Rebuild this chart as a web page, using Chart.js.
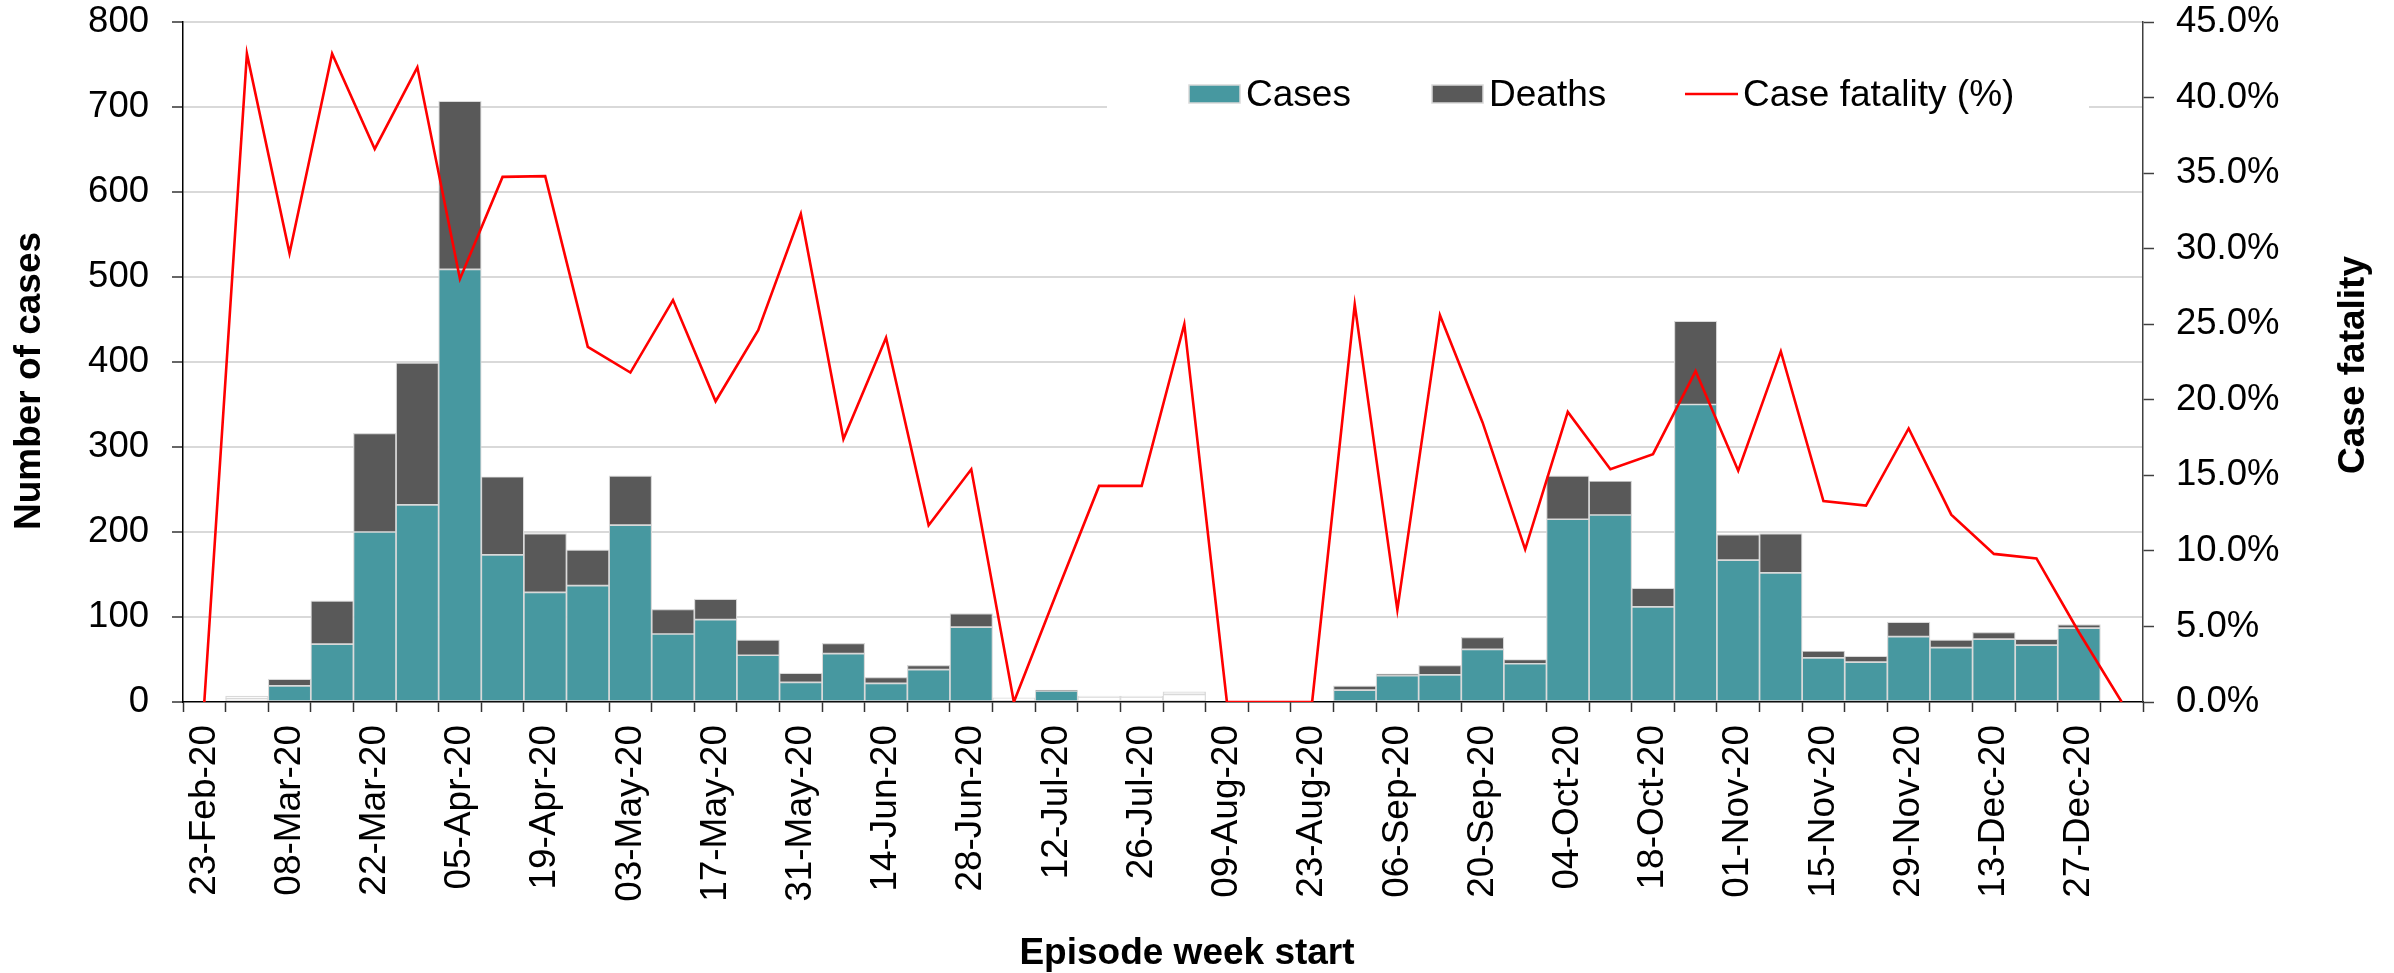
<!DOCTYPE html>
<html>
<head>
<meta charset="utf-8">
<script src="https://cdn.jsdelivr.net/npm/chart.js@4/dist/chart.umd.min.js"></script>
<style>
html,body{margin:0;padding:0;background:#ffffff;}
#wrap{width:2394px;height:973px;position:relative;}
</style>
</head>
<body>
<div id="wrap"><canvas id="c" width="2394" height="973"></canvas></div>
<script>
// ---- Data ----
const weeks = ['23-Feb-20','01-Mar-20','08-Mar-20','15-Mar-20','22-Mar-20','29-Mar-20','05-Apr-20','12-Apr-20','19-Apr-20','26-Apr-20','03-May-20','10-May-20','17-May-20','24-May-20','31-May-20','07-Jun-20','14-Jun-20','21-Jun-20','28-Jun-20','05-Jul-20','12-Jul-20','19-Jul-20','26-Jul-20','02-Aug-20','09-Aug-20','16-Aug-20','23-Aug-20','30-Aug-20','06-Sep-20','13-Sep-20','20-Sep-20','27-Sep-20','04-Oct-20','11-Oct-20','18-Oct-20','25-Oct-20','01-Nov-20','08-Nov-20','15-Nov-20','22-Nov-20','29-Nov-20','06-Dec-20','13-Dec-20','20-Dec-20','27-Dec-20','03-Jan-21'];
const cases = [0,4,19,68,200,232,509,173,129,137,208,80,97,55,23,57,22,38,88,5,13,6,6,9,0,0,0,14,31,32,62,45,215,220,112,350,167,152,52,47,77,64,74,67,87,0];
const deaths = [0,3,8,51,116,167,198,92,69,42,58,29,24,18,11,12,7,5,16,0,1,1,1,3,0,0,0,5,2,11,14,5,51,40,22,98,30,46,8,7,17,9,8,7,4,0];
const caseFatality = [0,42.9,29.7,42.9,36.6,42.0,28.0,34.75,34.8,23.5,21.8,26.6,19.9,24.6,32.3,17.4,24.1,11.7,15.4,0,7.2,14.3,14.3,25.0,0,0,0,26.3,6.1,25.6,18.5,10.1,19.2,15.4,16.4,21.9,15.3,23.2,13.3,13.0,18.1,12.4,9.8,9.5,4.6,0];
const countTicks = {min:0, max:800, step:100};
const pctTicks = {min:0, max:45, step:5};

// ---- Styles ----
const FONT = "'Liberation Sans', Arial, sans-serif";
const TEAL = '#4798a0';
const GREY = '#595959';
const EDGE = '#d9d9d9';
const suppressed = (i) => cases[i] < 10; // small weeks drawn unfilled

Chart.defaults.font.family = FONT;
Chart.defaults.color = '#000000';

const decor = {
  id: 'decor',
  afterDraw(chart) {
    const ctx = chart.ctx;
    ctx.save();
    // legend
    ctx.fillStyle = '#ffffff';
    ctx.fillRect(1107, 48, 982, 95);
    const ds = chart.data.datasets;
    ctx.font = "37px " + FONT;
    ctx.textBaseline = 'alphabetic';
    ctx.textAlign = 'left';
    // Cases
    ctx.fillStyle = TEAL; ctx.fillRect(1189, 85, 51, 18);
    ctx.strokeStyle = EDGE; ctx.lineWidth = 1.5; ctx.strokeRect(1189, 85, 51, 18);
    ctx.fillStyle = '#000'; ctx.fillText(ds[0].label, 1246, 106);
    // Deaths
    ctx.fillStyle = GREY; ctx.fillRect(1432, 85, 51, 18);
    ctx.strokeStyle = EDGE; ctx.strokeRect(1432, 85, 51, 18);
    ctx.fillStyle = '#000'; ctx.fillText(ds[1].label, 1489, 106);
    // Case fatality line
    ctx.strokeStyle = '#ff0000'; ctx.lineWidth = 2.5;
    ctx.beginPath(); ctx.moveTo(1685, 94); ctx.lineTo(1738, 94); ctx.stroke();
    ctx.fillStyle = '#000'; ctx.fillText(ds[2].label, 1743, 106);

    // axis titles
    ctx.font = "bold 37px " + FONT;
    ctx.textAlign = 'center';
    ctx.save(); ctx.translate(40, 381); ctx.rotate(-Math.PI/2);
    ctx.fillText('Number of cases', 0, 0); ctx.restore();
    ctx.save(); ctx.translate(2364, 365); ctx.rotate(-Math.PI/2);
    ctx.fillText('Case fatality', 0, 0); ctx.restore();
    ctx.fillText('Episode week start', 1187, 964);
    ctx.restore();
  }
};

const noPad = (s) => { s.paddingTop = 0; s.paddingBottom = 0; s.paddingLeft = 0; s.paddingRight = 0; };

new Chart(document.getElementById('c'), {
  data: {
    labels: weeks,
    datasets: [
      {
        type: 'bar', label: 'Cases', data: cases, yAxisID: 'y', order: 1,
        backgroundColor: (c) => suppressed(c.dataIndex) ? '#ffffff' : TEAL,
        borderColor: EDGE, borderWidth: 1.2, borderSkipped: false,
        barPercentage: 1, categoryPercentage: 1, stack: 's'
      },
      {
        type: 'bar', label: 'Deaths', data: deaths, yAxisID: 'y', order: 1,
        backgroundColor: (c) => suppressed(c.dataIndex) ? '#ffffff' : GREY,
        borderColor: EDGE, borderWidth: 1.2, borderSkipped: false,
        barPercentage: 1, categoryPercentage: 1, stack: 's'
      },
      {
        type: 'line', label: 'Case fatality (%)', data: caseFatality, yAxisID: 'y1', order: 0,
        borderColor: '#ff0000', backgroundColor: '#ff0000', borderWidth: 2.6,
        pointRadius: 0, tension: 0, fill: false
      }
    ]
  },
  options: {
    responsive: false,
    devicePixelRatio: 1,
    animation: false,
    layout: { padding: { top: 22, left: 0, right: 0, bottom: 0 } },
    plugins: { legend: { display: false }, tooltip: { enabled: false } },
    scales: {
      x: {
        type: 'category', stacked: true, offset: true,
        afterFit: (s) => { s.height = 271; noPad(s); },
        grid: { display: true, offset: true, drawOnChartArea: false, drawTicks: true, tickLength: 10, tickColor: '#333333', tickWidth: 1.5 },
        border: { display: true, color: '#000000', width: 1.5 },
        ticks: {
          autoSkip: false, minRotation: 90, maxRotation: 90, padding: 13,
          font: { size: 37, family: FONT }, color: '#000000',
          callback: (v, i) => (i % 2 === 0 ? weeks[i] : '')
        }
      },
      y: {
        position: 'left', stacked: true,
        min: countTicks.min, max: countTicks.max,
        afterFit: (s) => { s.width = 183; noPad(s); },
        grid: { color: (c) => (c.tick && c.tick.value === 0 ? 'rgba(0,0,0,0)' : EDGE), lineWidth: 2, drawTicks: true, tickLength: 11, tickColor: '#333333', tickWidth: 1.5 },
        border: { display: true, color: '#000000', width: 1.5 },
        ticks: { stepSize: countTicks.step, padding: 23, font: { size: 36.5, family: FONT, lineHeight: 1 }, color: '#000000' }
      },
      y1: {
        position: 'right',
        min: pctTicks.min, max: pctTicks.max,
        afterFit: (s) => { s.width = 251; noPad(s); },
        grid: { drawOnChartArea: false, drawTicks: true, tickLength: 11, tickColor: '#404040', tickWidth: 1.5 },
        border: { display: true, color: '#404040', width: 1.5 },
        ticks: { stepSize: pctTicks.step, padding: 22, font: { size: 36.5, family: FONT, lineHeight: 1 }, color: '#000000',
          callback: (v) => Number(v).toFixed(1) + '%' }
      }
    }
  },
  plugins: [decor]
});
</script>
</body>
</html>
